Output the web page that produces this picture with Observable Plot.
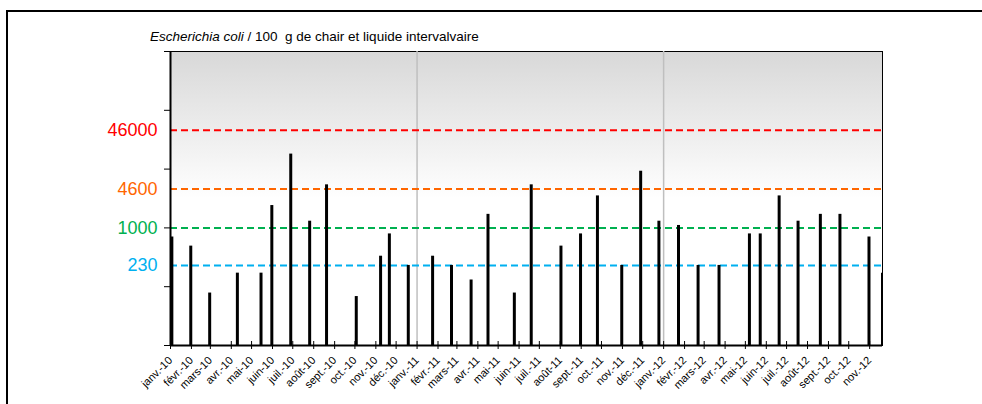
<!DOCTYPE html>
<html><head><meta charset="utf-8">
<script src="https://cdn.jsdelivr.net/npm/d3@7"></script>
<script src="https://cdn.jsdelivr.net/npm/@observablehq/plot@0.6"></script>
<style>
html,body{margin:0;padding:0;background:#fff;overflow:hidden;}
#chart{position:relative;width:982px;height:404px;}
</style></head><body><div id="chart"></div>
<script>
const sampleDates = [
  "2010-01-03","2010-01-31","2010-02-28","2010-04-10","2010-05-15","2010-05-31","2010-06-28","2010-07-26","2010-08-20","2010-10-03","2010-11-08","2010-11-21","2010-12-19",
  "2011-01-24","2011-02-21","2011-03-22","2011-04-16","2011-05-25","2011-06-19","2011-08-02","2011-08-31","2011-09-25","2011-10-31","2011-11-28","2011-12-25",
  "2012-01-23","2012-02-21","2012-03-23","2012-05-07","2012-05-23","2012-06-20","2012-07-18","2012-08-20","2012-09-18","2012-10-31","2012-11-20"
];
const ecoliValues = [
  700,490,78,170,170,2400,18000,1300,5400,68,330,790,230,
  330,230,130,1700,78,5400,490,790,3500,230,9200,1300,
  1100,230,230,790,790,3500,1300,1700,1700,700,170
];
const thresholdValues = [46000, 4600, 1000, 230];
const thresholdLabels = ["46000", "4600", "1000", "230"];
const thresholdColors = ["#FF0000", "#FF6600", "#00B050", "#00B0F0"];
const monthLabels = [
  "janv.-10","févr.-10","mars-10","avr.-10","mai-10","juin-10","juil.-10","août-10","sept.-10","oct.-10","nov.-10","déc.-10",
  "janv.-11","févr.-11","mars-11","avr.-11","mai-11","juin-11","juil.-11","août-11","sept.-11","oct.-11","nov.-11","déc.-11",
  "janv.-12","févr.-12","mars-12","avr.-12","mai-12","juin-12","juil.-12","août-12","sept.-12","oct.-12","nov.-12"
];
const yearLines = ["2011-01-01", "2012-01-01"];
const axisStart = "2010-01-01", axisEnd = "2012-11-20";
const yTicks = [10, 100, 1000, 10000, 100000, 1000000];
const titleItalic = "Escherichia coli";
const titleRest = " / 100  g de chair et liquide intervalvaire";

const samples = sampleDates.map((d, i) => ({date: new Date(d), value: ecoliValues[i]}));
const thresholds = thresholdValues.map((v, i) => ({value: v, label: thresholdLabels[i], color: thresholdColors[i]}));
const monthTicks = d3.utcMonth.range(new Date(axisStart), new Date(axisEnd));
const months = monthTicks.map((d, i) => ({date: d, label: monthLabels[i]}));
const font = "'Liberation Sans', Arial, sans-serif";

const plot = Plot.plot({
  width: 982, height: 404,
  marginLeft: 170, marginRight: 100, marginTop: 51, marginBottom: 59,
  style: {fontFamily: font, background: "transparent"},
  x: {type: "utc", domain: [new Date(axisStart), new Date(axisEnd)]},
  y: {type: "log", domain: [10, 1e6]},
  color: {type: "identity"},
  marks: [
    Plot.frame({fill: "url(#plotBg)", stroke: "black", strokeWidth: 1}),
    Plot.ruleX(yearLines.map(d => new Date(d)), {stroke: "#BFBFBF", strokeWidth: 1.5}),
    Plot.ruleY(thresholds, {y: "value", stroke: "color", strokeWidth: 2, strokeDasharray: "7,4"}),
    Plot.ruleX(samples, {x: "date", y1: 10, y2: "value", stroke: "black", strokeWidth: 3, clip: "frame"}),
    Plot.axisY({ticks: yTicks, tickSize: 6, tickFormat: () => "", label: null}),
    Plot.ruleX([new Date(axisStart)], {stroke: "black", strokeWidth: 2}),
    Plot.ruleY([10], {stroke: "black", strokeWidth: 2}),
    Plot.axisX({ticks: monthTicks, tickSize: 4, tickFormat: () => "", label: null}),
    Plot.axisX({ticks: monthTicks, tickSize: 4, dy: -4, tickFormat: () => "", label: null}),
    Plot.text(months, {x: "date", text: "label", frameAnchor: "bottom", rotate: -45, textAnchor: "end", lineAnchor: "middle", dx: 0, dy: 13, fontSize: 11, fill: "black"}),
    Plot.text(thresholds, {y: "value", text: "label", fill: "color", frameAnchor: "left", textAnchor: "end", dx: -13, fontSize: 18})
  ]
});

const svg = d3.select(plot);
const defs = svg.insert("defs", ":first-child");
const grad = defs.append("linearGradient").attr("id", "plotBg").attr("x1", 0).attr("y1", 0).attr("x2", 0).attr("y2", 1);
grad.append("stop").attr("offset", "0").attr("stop-color", "#D8D8D8");
grad.append("stop").attr("offset", "0.5").attr("stop-color", "#FFFFFF");
grad.append("stop").attr("offset", "1").attr("stop-color", "#FFFFFF");

svg.append("rect").attr("x", 7).attr("y", 11).attr("width", 1100).attr("height", 600)
  .attr("fill", "none").attr("stroke", "black").attr("stroke-width", 2);

const title = svg.append("text").attr("x", 150).attr("y", 41)
  .attr("text-anchor", "start")
  .attr("font-family", font).attr("font-size", 13.5).attr("fill", "black")
  .style("white-space", "pre");
title.append("tspan").attr("font-style", "italic").text(titleItalic);
title.append("tspan").text(titleRest);

document.getElementById("chart").appendChild(plot);
</script>
</body></html>
